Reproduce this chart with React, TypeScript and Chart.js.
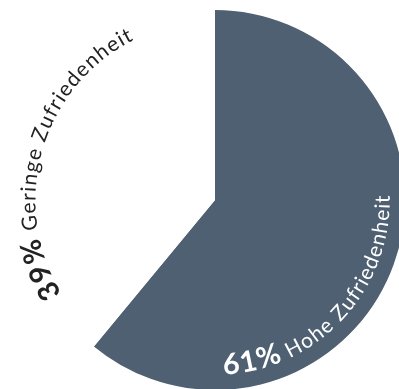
import React, { useEffect, useRef } from "react";
import { Chart, registerables } from "chart.js";

Chart.register(...registerables);

const categories = ["Hohe Zufriedenheit", "Geringe Zufriedenheit"];
const values = [61, 39];
const sliceColors = ["#4e6072", "#ffffff"];
const labelColors = ["#ffffff", "#222222"];

const FONT_FAMILY = "Lato, 'DejaVu Sans', sans-serif";
const BOLD_SIZE = 29;
const NORMAL_SIZE = 21;
const BOLD_SPACING = 1.6;
const NORMAL_SPACING = 1.2;
const LABEL_SHIFT_DEG = [0, -4];

const curvedLabels = {
  id: "curvedLabels",
  afterDatasetsDraw(chart: any) {
    const ctx = chart.ctx as CanvasRenderingContext2D;
    const meta = chart.getDatasetMeta(0);
    const data = chart.data.datasets[0].data as number[];
    const total = data.reduce((a, b) => a + b, 0);
    meta.data.forEach((arc: any, i: number) => {
      const { x, y, startAngle, endAngle, outerRadius } = arc.getProps(
        ["x", "y", "startAngle", "endAngle", "outerRadius"],
        true
      );
      const pct = Math.round((data[i] / total) * 100) + "%";
      const parts = [
        { text: pct, font: `bold ${BOLD_SIZE}px ${FONT_FAMILY}`, sp: BOLD_SPACING },
        { text: " " + chart.data.labels[i], font: `${NORMAL_SIZE}px ${FONT_FAMILY}`, sp: NORMAL_SPACING },
      ];
      const chars: { ch: string; font: string; w: number }[] = [];
      parts.forEach((p) => {
        ctx.font = p.font;
        for (const ch of p.text) {
          chars.push({ ch, font: p.font, w: ctx.measureText(ch).width + p.sp });
        }
      });
      const L = chars.reduce((s, c) => s + c.w, 0);
      const mid = (startAngle + endAngle) / 2 + (LABEL_SHIFT_DEG[i] * Math.PI) / 180;
      const bottom = Math.sin(mid) > 0;
      ctx.save();
      ctx.fillStyle = labelColors[i];
      ctx.textAlign = "center";
      ctx.textBaseline = "alphabetic";
      if (bottom) {
        const R = outerRadius * 0.92;
        const span = L / R;
        let start = mid + span / 2;
        let end = mid - span / 2;
        if (end < -0.03) {
          const shift = -0.03 - end;
          start += shift;
          end += shift;
        }
        let cursor = start;
        chars.forEach((c) => {
          const a = cursor - c.w / 2 / R;
          ctx.save();
          ctx.translate(x + R * Math.cos(a), y + R * Math.sin(a));
          ctx.rotate(a - Math.PI / 2);
          ctx.font = c.font;
          ctx.fillText(c.ch, 0, 0);
          ctx.restore();
          cursor -= c.w / R;
        });
      } else {
        const R = outerRadius * 0.945;
        const span = L / R;
        let cursor = mid - span / 2;
        chars.forEach((c) => {
          const a = cursor + c.w / 2 / R;
          ctx.save();
          ctx.translate(x + R * Math.cos(a), y + R * Math.sin(a));
          ctx.rotate(a + Math.PI / 2);
          ctx.font = c.font;
          ctx.fillText(c.ch, 0, 0);
          ctx.restore();
          cursor += c.w / R;
        });
      }
      ctx.restore();
    });
  },
};

export default function App() {
  const ref = useRef<HTMLCanvasElement | null>(null);
  useEffect(() => {
    if (!ref.current) return;
    const chart = new Chart(ref.current, {
      type: "pie",
      data: {
        labels: categories,
        datasets: [
          {
            data: values,
            backgroundColor: sliceColors,
            borderWidth: 0,
            hoverOffset: 0,
          },
        ],
      },
      options: {
        responsive: false,
        animation: false,
        devicePixelRatio: 1,
        events: [],
        layout: { padding: { left: 25, top: 10, right: 25, bottom: 10 } },
        plugins: {
          legend: { display: false },
          tooltip: { enabled: false },
        },
      },
      plugins: [curvedLabels],
    });
    const fonts = (document as any).fonts;
    if (fonts && fonts.load) {
      Promise.all([
        fonts.load(`bold ${BOLD_SIZE}px Lato`),
        fonts.load(`${NORMAL_SIZE}px Lato`),
      ]).then(() => chart.draw()).catch(() => {});
    }
    return () => chart.destroy();
  }, []);
  return (
    <div
      style={{
        position: "absolute",
        left: 0,
        top: 0,
        width: 399,
        height: 389,
        overflow: "hidden",
        background: "#ffffff",
      }}
    >
      <canvas ref={ref} width={430} height={400} style={{ width: 430, height: 400, display: "block" }} />
    </div>
  );
}
